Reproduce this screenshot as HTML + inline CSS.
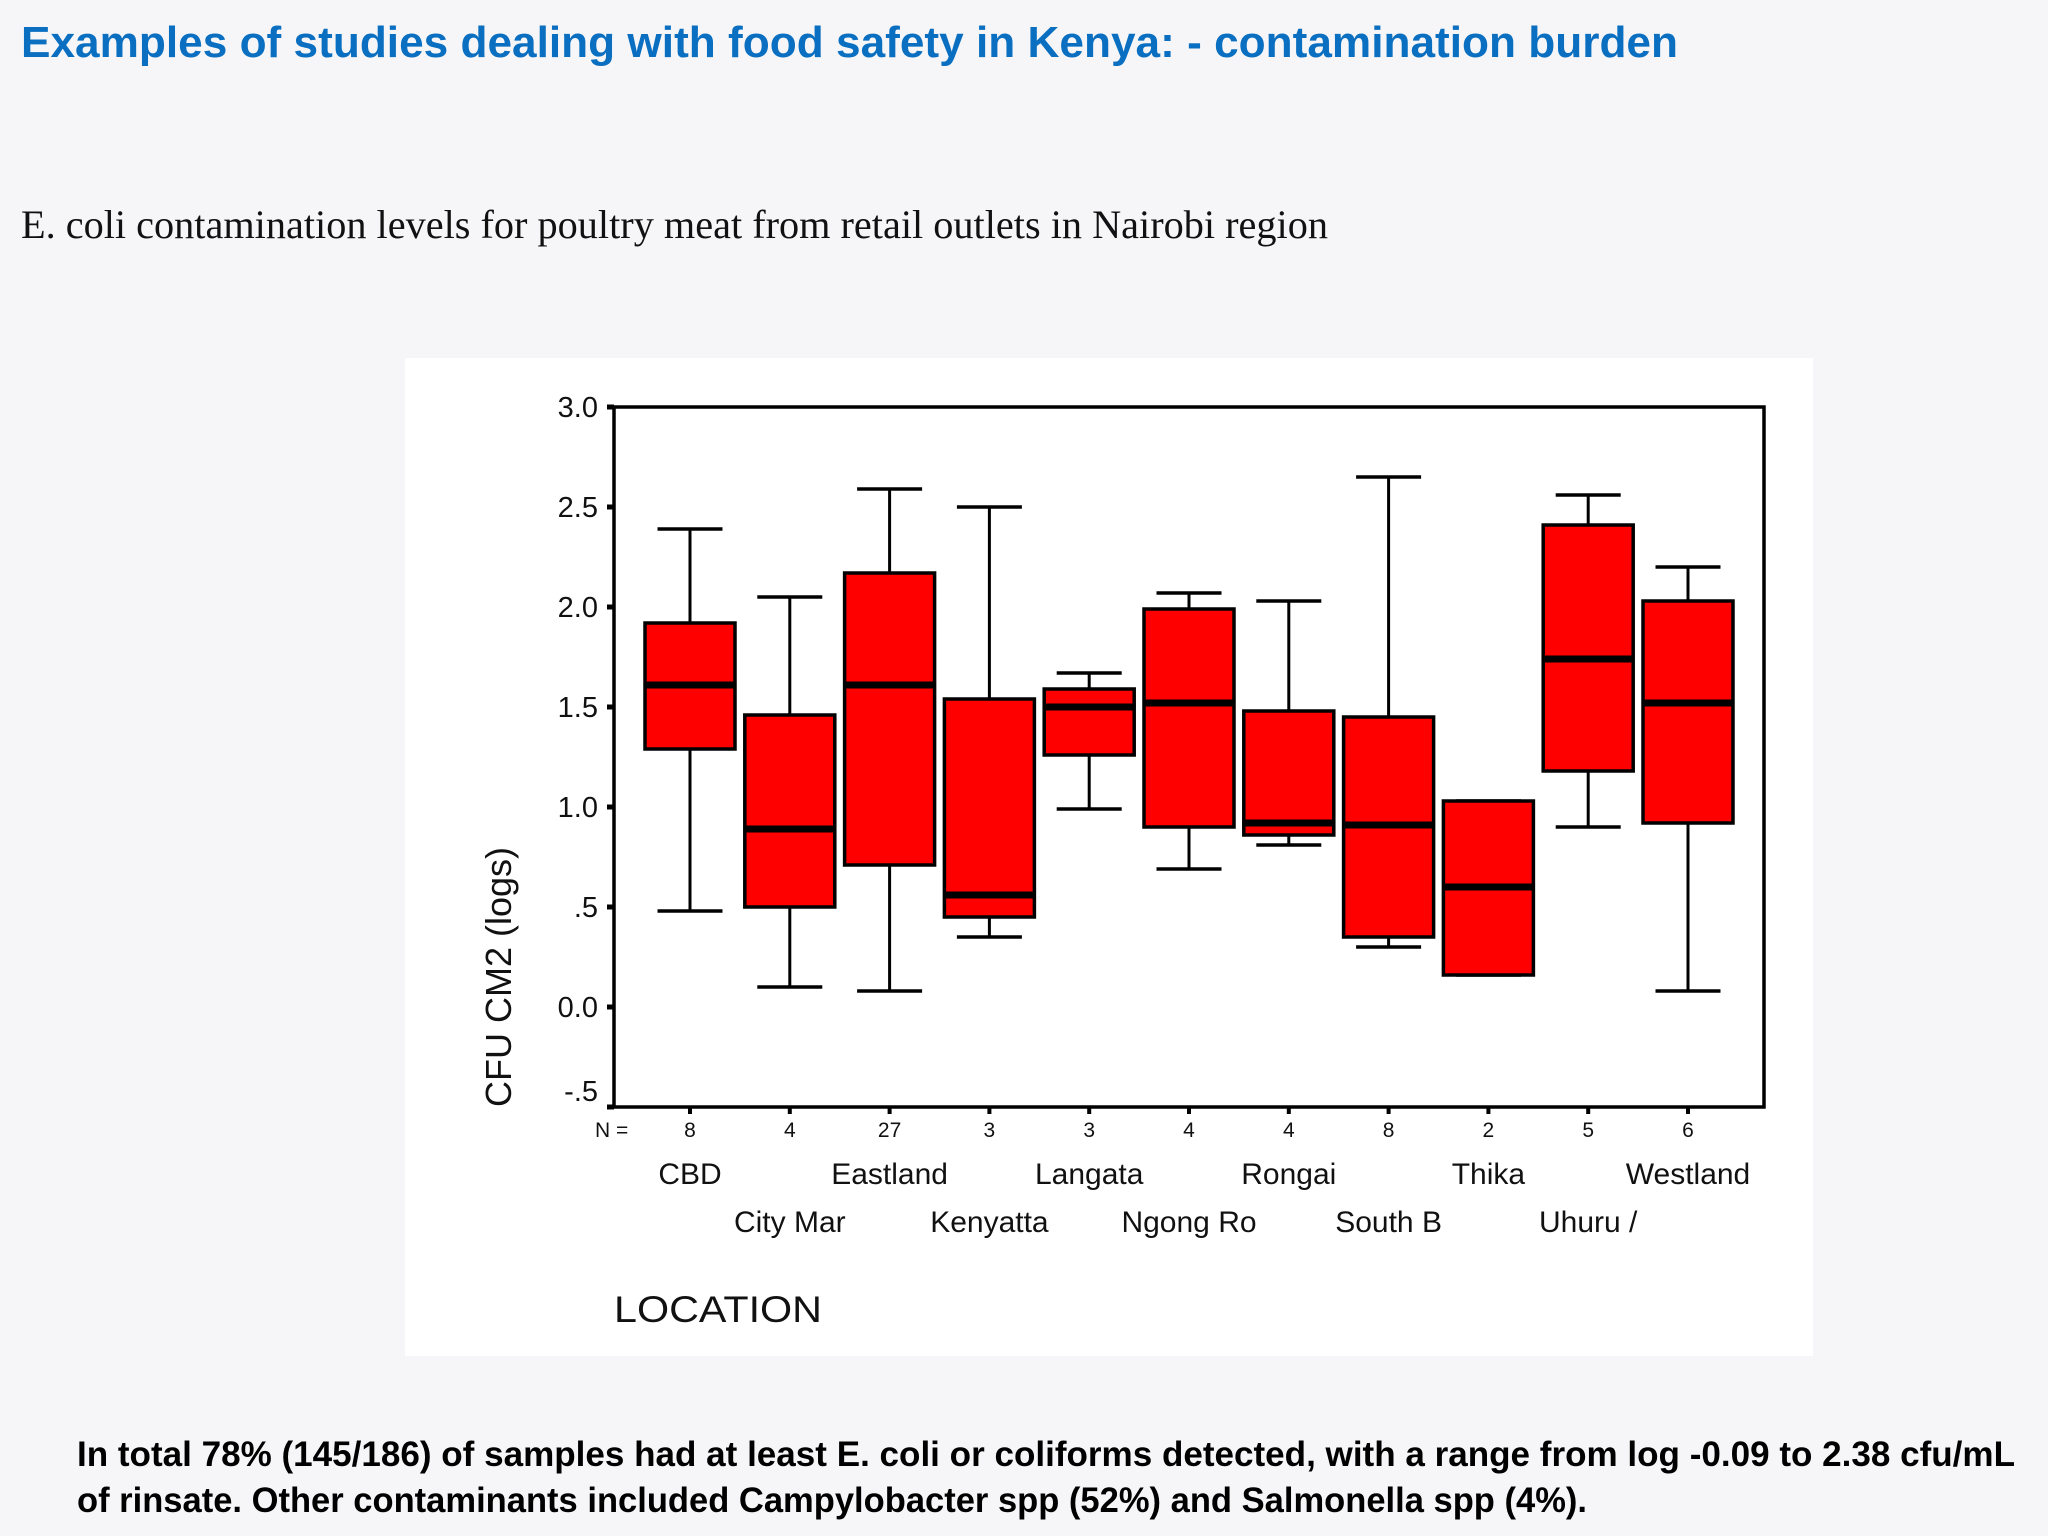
<!DOCTYPE html>
<html><head><meta charset="utf-8">
<style>
html,body{margin:0;padding:0;background:#f6f6f8;}
svg{display:block;}
text{font-family:"Liberation Sans",sans-serif;}
</style></head>
<body>
<svg id="root" width="2048" height="1536" viewBox="0 0 2048 1536" xmlns="http://www.w3.org/2000/svg">
<rect x="0" y="0" width="2048" height="1536" fill="#f6f6f8"/>
<text x="21" y="57" font-size="44" font-weight="bold" fill="#0a6fc0" textLength="1657" lengthAdjust="spacingAndGlyphs">Examples of studies dealing with food safety in Kenya: - contamination burden</text>
<text x="21" y="238" font-size="40" fill="#111" style="font-family:'Liberation Serif',serif" textLength="1307" lengthAdjust="spacingAndGlyphs">E. coli contamination levels for poultry meat from retail outlets in Nairobi region</text>
<rect x="405" y="358" width="1408" height="998" fill="#ffffff"/>
<g id="chart"></g>
<text x="77" y="1466" font-size="35" font-weight="bold" fill="#000" textLength="1938" lengthAdjust="spacingAndGlyphs">In total 78% (145/186) of samples had at least E. coli or coliforms detected, with a range from log -0.09 to 2.38 cfu/mL</text>
<text x="77" y="1512" font-size="35" font-weight="bold" fill="#000" textLength="1510" lengthAdjust="spacingAndGlyphs">of rinsate. Other contaminants included Campylobacter spp (52%) and Salmonella spp (4%).</text>
</svg>
<script>
const categories = ["CBD","City Mar","Eastland","Kenyatta","Langata","Ngong Ro","Rongai","South B","Thika","Uhuru /","Westland"];
const counts = [8,4,27,3,3,4,4,8,2,5,6];
const whiskerHigh = [2.39,2.05,2.59,2.50,1.67,2.07,2.03,2.65,1.03,2.56,2.20];
const q3Values = [1.92,1.46,2.17,1.54,1.59,1.99,1.48,1.45,1.03,2.41,2.03];
const medians = [1.61,0.89,1.61,0.56,1.50,1.52,0.92,0.91,0.60,1.74,1.52];
const q1Values = [1.29,0.50,0.71,0.45,1.26,0.90,0.86,0.35,0.16,1.18,0.92];
const whiskerLow = [0.48,0.10,0.08,0.35,0.99,0.69,0.81,0.30,0.16,0.90,0.08];
const yTicks = [3.0,2.5,2.0,1.5,1.0,0.5,0.0,-0.5];
const yTickLabels = ["3.0","2.5","2.0","1.5","1.0",".5","0.0","-.5"];

const NS="http://www.w3.org/2000/svg";
const g=document.getElementById('chart');
const L=614,R=1764,T=407,B=1107,yMin=-0.5,yMax=3.0;
const y=v=>B-(v-yMin)/(yMax-yMin)*(B-T);
const step=(R-L-152)/(categories.length-1);
const x=i=>L+76+i*step;
const boxW=90,capW=65;
function mk(tag,attrs,parent){const e=document.createElementNS(NS,tag);for(const k in attrs)e.setAttribute(k,attrs[k]);(parent||g).appendChild(e);return e;}

const frame=mk('rect',{x:L,y:T,width:R-L,height:B-T,fill:'none',stroke:'#000','stroke-width':3.5});



yTicks.forEach((v,i)=>{
  const t=mk('line',{x1:L-7,x2:L,y1:y(v),y2:y(v),stroke:'#000','stroke-width':5});
  
  
  const lb=mk('text',{x:L-16,y:y(v)+(i===yTicks.length-1?-6:10),'font-size':29,'text-anchor':'end',fill:'#111'});
  lb.textContent=yTickLabels[i];
  
  
});

const yt=mk('text',{x:0,y:0,'font-size':36,'text-anchor':'middle',fill:'#111',transform:'translate(511,977) rotate(-90)'});
yt.textContent='CFU CM2 (logs)';



const nl=mk('text',{x:595,y:1137,'font-size':21,fill:'#111'});
nl.textContent='N =';



categories.forEach((c,i)=>{
  const cx=x(i);
  const grp=mk('g',{});
  
  
  const wl=mk('line',{x1:cx,x2:cx,y1:y(whiskerHigh[i]),y2:y(whiskerLow[i]),stroke:'#000','stroke-width':3},grp);
  
  
  [whiskerHigh[i],whiskerLow[i]].forEach(v=>{
    const cap=mk('line',{x1:cx-capW/2,x2:cx+capW/2,y1:y(v),y2:y(v),stroke:'#000','stroke-width':3.5},grp);
    
    
  });
  const bx=mk('rect',{x:cx-boxW/2,y:y(q3Values[i]),width:boxW,height:y(q1Values[i])-y(q3Values[i]),fill:'#ff0000',stroke:'#000','stroke-width':3.5},grp);
  
  
  const md=mk('line',{x1:cx-boxW/2,x2:cx+boxW/2,y1:y(medians[i]),y2:y(medians[i]),stroke:'#000','stroke-width':7},grp);
  
  
  const xt=mk('line',{x1:cx,x2:cx,y1:B,y2:B+7,stroke:'#000','stroke-width':4});
  
  
  const nt=mk('text',{x:cx,y:1137,'font-size':21,'text-anchor':'middle',fill:'#111'});
  nt.textContent=counts[i];
  
  
  const cl=mk('text',{x:cx,y:i%2===0?1184:1232,'font-size':30,'text-anchor':'middle',fill:'#111'});
  cl.textContent=c;
  
  
});

const xt=mk('text',{x:614,y:1322,'font-size':37,fill:'#111',textLength:208,lengthAdjust:'spacingAndGlyphs'});
xt.textContent='LOCATION';


</script>
</body></html>
